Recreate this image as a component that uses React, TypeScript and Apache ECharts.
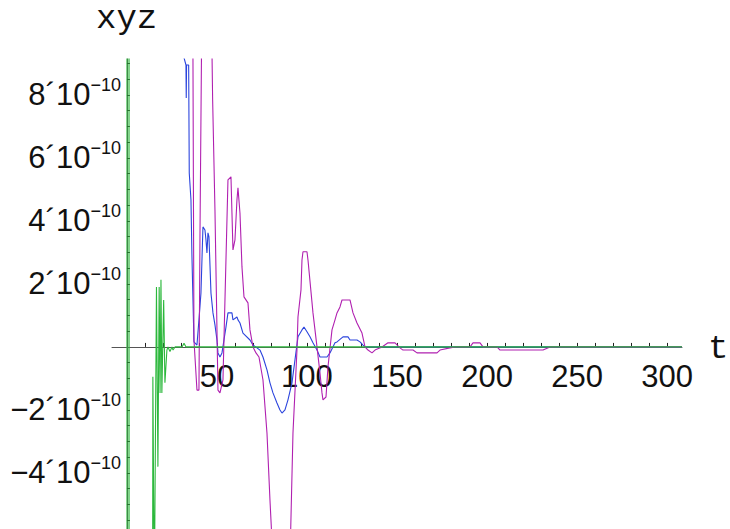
import React, { useEffect, useRef } from "react";
import * as echarts from "echarts";

// ---- axes -------------------------------------------------------------
const X_MIN = -8.3;
const X_MAX = 308.3;
const X_TICKS = [10, 20, 30, 40, 50, 60, 70, 80, 90, 100, 110, 120, 130, 140, 150, 160, 170, 180, 190, 200, 210, 220, 230, 240, 250, 260, 270, 280, 290, 300];
const X_LABELS = [50, 100, 150, 200, 250, 300];

// values are in units of 10^-10
const EXPONENT = "−10";
const Y_MIN = -5.78;
const Y_MAX = 9.14;
const Y_TICKS = [-5.5, -5, -4.5, -4, -3.5, -3, -2.5, -2, -1.5, -1, -0.5, 0.5, 1, 1.5, 2, 2.5, 3, 3.5, 4, 4.5, 5, 5.5, 6, 6.5, 7, 7.5, 8, 8.5, 9];
const Y_LABELS = [-4, -2, 2, 4, 6, 8];

const AXIS_NAME_Y = "xyz";
const AXIS_NAME_X = "t";

// ---- series: [t, value (×10^-10)] ------------------------------------
const greenSeries: [number, number][] = [
  [0, 40], [0.05, -40], [1.1, -40], [1.15, 40], [1.2, -40], [13.6, -40],
  [14.4, -0.95], [15.2, -8], [16.4, 1.9], [17.2, -3.8], [17.9, 1.9], [18.4, -1.46],
  [18.9, 2.13], [19.4, -1.46], [20.4, 1.49], [21.1, -1.14], [22.2, -0.1], [22.8, 0],
  [23.9, -0.15], [25.0, 0], [25.6, -0.1], [26.7, 0], [30.6, 0], [31.7, 0.12],
  [32.8, 0], [308.3, 0],
];

const blueSeries: [number, number][] = [
  [0, 30], [31.6, 9.2], [32.78, 8.95], [32.94, 7.9], [33.11, 8.95], [34.28, 8.95],
  [34.61, 5.52], [35.56, 4.67], [36.11, 2.86], [37.22, 0.16], [38.89, 0.06], [40.0, 0.86],
  [41.11, 1.71], [42.22, 3.81], [43.33, 3.71], [43.89, 3.4], [44.44, 2.98], [45.0, 3.62],
  [45.56, 3.49], [46.67, 1.71], [47.78, 1.08], [48.89, 0.7], [50.0, 0.22], [50.56, -0.19],
  [51.67, -0.32], [52.78, -0.19], [53.89, 0.22], [55.0, 0.63], [56.11, 1.08], [58.33, 1.08],
  [58.89, 0.86], [61.11, 0.95], [61.67, 0.86], [62.78, 0.76], [64.44, 0.44], [68.33, 0.22],
  [70.0, 0.06], [72.22, -0.03], [73.89, -0.1], [75.56, -0.32], [77.78, -0.73], [79.44, -1.14],
  [81.11, -1.46], [83.33, -1.78], [85.0, -2.0], [86.11, -2.1], [87.78, -2.0], [89.44, -1.68],
  [91.67, -1.14], [93.33, -0.41], [95.0, 0.32], [97.22, 0.54], [98.33, 0.63], [100.0, 0.48],
  [101.67, 0.32], [103.33, 0.13], [105.56, -0.1], [107.22, -0.32], [111.11, -0.32], [112.78, -0.19],
  [115.56, 0.13], [116.67, 0.16], [120.0, 0.32], [122.78, 0.32], [123.89, 0.22], [127.78, 0.22],
  [129.44, 0.16], [131.11, 0.06], [132.22, 0], [308.3, 0],
];

const magentaSeries: [number, number][] = [
  [0, 30], [36.6, 12], [36.67, 9.14], [37.22, 0.22], [38.89, -1.37], [40.0, -1.37],
  [40.56, 3.49], [41.8, 12], [46.6, 12], [47.6, 7.84], [48.89, 4.35], [50.56, -1.37],
  [51.67, -1.46], [53.33, -1.05], [56.11, 5.3], [57.78, 5.4], [58.33, 4.25], [58.89, 3.08],
  [60.0, 3.4], [61.11, 4.67], [61.67, 5.05], [62.78, 4.25], [63.89, 2.54], [65.0, 1.59],
  [67.22, 1.4], [68.33, 0.54], [70.0, 0], [71.67, -0.19], [73.33, -0.32], [75.56, -1.05],
  [77.78, -2.73], [79.44, -4.86], [81.11, -6.76], [83.0, -8], [89.0, -8], [90.56, -6.76],
  [92.22, -2.73], [94.44, -0.1], [95.0, 0.95], [96.67, 1.81], [97.22, 2.76], [97.78, 3.02],
  [100.0, 3.02], [100.56, 2.76], [103.33, 1.08], [105.56, 0], [107.22, -0.83], [108.33, -1.46],
  [108.89, -1.68], [110.56, -1.59], [111.67, -0.63], [113.89, 0.54], [115.56, 0.86], [116.67, 1.08],
  [118.33, 1.27], [119.44, 1.49], [123.89, 1.49], [125.56, 1.08], [127.78, 0.76], [130.56, 0.44],
  [132.22, 0], [133.89, -0.1], [136.11, -0.19], [137.78, -0.1], [141.67, 0], [145.0, 0.13],
  [148.89, 0.13], [151.67, -0.03], [153.33, -0.1], [158.89, -0.1], [161.11, -0.19], [172.22, -0.19],
  [173.89, -0.1], [179.44, -0.03], [182.22, 0], [190.56, 0], [192.22, 0.13], [196.11, 0.13],
  [197.78, 0], [205.56, 0], [207.22, -0.1], [231.11, -0.1], [235.0, 0], [308.3, 0],
];

const LABEL_FONT = "'Liberation Sans', Arial, sans-serif";
const MONO_FONT = "'Liberation Mono', 'DejaVu Sans Mono', monospace";

const GRID = { left: 112, right: 48, top: 59, bottom: 0 };
const PLOT_W = 730 - GRID.left - GRID.right;
const PLOT_H = 529 - GRID.top - GRID.bottom;

export default function App() {
  const ref = useRef<HTMLDivElement>(null);

  useEffect(() => {
    if (!ref.current) return;
    const chart = echarts.init(ref.current, null, { renderer: "svg" });

    // place the axes on the other axis' zero (moves line, ticks and labels together)
    const yZeroFromBottom = ((0 - Y_MIN) / (Y_MAX - Y_MIN)) * PLOT_H;
    const xZeroFromLeft = ((0 - X_MIN) / (X_MAX - X_MIN)) * PLOT_W;

    const lineSeries = (data: [number, number][], color: string, z: number) => ({
      type: "line" as const,
      data,
      showSymbol: false,
      symbol: "none",
      clip: true,
      silent: true,
      z,
      lineStyle: { color, width: 1.1 },
    });

    chart.setOption({
      animation: false,
      backgroundColor: "#ffffff",
      grid: { ...GRID, containLabel: false, outerBoundsMode: "none" },
      xAxis: {
        type: "value",
        position: "bottom",
        offset: -yZeroFromBottom,
        min: X_MIN,
        max: X_MAX,
        axisLine: { show: true, onZero: false, lineStyle: { color: "#555", width: 1 } },
        axisTick: { show: true, inside: true, length: 4, customValues: X_TICKS, lineStyle: { color: "#222" } },
        axisLabel: {
          show: true,
          customValues: X_LABELS,
          margin: 14,
          fontFamily: LABEL_FONT,
          fontSize: 31,
          lineHeight: 31,
          color: "#111",
          formatter: (v: number) => String(Math.round(v)),
        },
        splitLine: { show: false },
      },
      yAxis: {
        type: "value",
        position: "left",
        offset: -xZeroFromLeft,
        min: Y_MIN,
        max: Y_MAX,
        axisLine: { show: true, onZero: false, lineStyle: { color: "#555", width: 1 } },
        axisTick: { show: true, inside: true, length: 3, customValues: Y_TICKS, lineStyle: { color: "#222" } },
        axisLabel: {
          show: true,
          customValues: Y_LABELS,
          margin: 6,
          formatter: (v: number) => {
            const n = Math.round(v);
            const s = n < 0 ? "−" + -n : String(n);
            return `{m|${s}´10}{e|${EXPONENT}}`;
          },
          rich: {
            m: { fontFamily: LABEL_FONT, fontSize: 31, lineHeight: 37, color: "#111" },
            e: { fontFamily: LABEL_FONT, fontSize: 18, lineHeight: 17, verticalAlign: "top", color: "#111" },
          },
        },
        splitLine: { show: false },
      },
      graphic: [
        {
          type: "text",
          left: 96,
          top: 2,
          style: { text: AXIS_NAME_Y, fontFamily: MONO_FONT, fontSize: 34, fill: "#111" },
        },
        {
          type: "text",
          left: 708,
          top: 332,
          style: { text: AXIS_NAME_X, fontFamily: MONO_FONT, fontSize: 34, fill: "#111" },
        },
      ],
      series: [
        lineSeries(blueSeries, "#2b44dd", 2),
        lineSeries(magentaSeries, "#b020b0", 3),
        lineSeries(greenSeries, "#2cb83c", 4),
      ],
    });

    return () => chart.dispose();
  }, []);

  return (
    <div
      ref={ref}
      style={{ position: "absolute", left: 0, top: 0, width: 730, height: 529, background: "#fff" }}
    />
  );
}
